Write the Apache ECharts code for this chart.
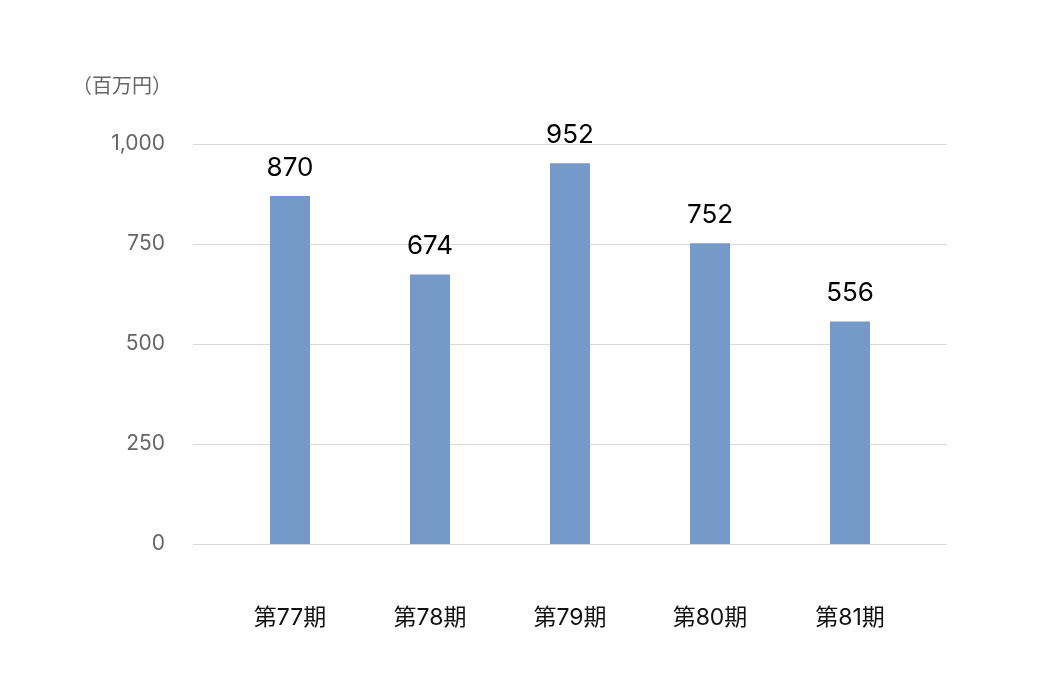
<!DOCTYPE html>
<html><head><meta charset="utf-8">
<script src="https://cdn.jsdelivr.net/npm/echarts@6/dist/echarts.min.js"></script>
<style>html,body{margin:0;padding:0;background:#fff}#c{width:1040px;height:700px}</style>
</head><body><div id="c"></div>
<script>
const categories = ['第77期','第78期','第79期','第80期','第81期'];
const values = [870, 674, 952, 752, 556];
const unitLabel = '（百万円）';
const yMin = 0, yMax = 1000, yStep = 250;

const font = 'Inter, "Noto Sans CJK JP", sans-serif';
const chart = echarts.init(document.getElementById('c'), null, {renderer:'canvas'});
chart.setOption({
  animation:false,
  backgroundColor:'#fff',
  graphic:[{type:'text', left:72, top:75, style:{text:unitLabel, fill:'#666', font:'20px "Noto Sans CJK JP", sans-serif'}}],
  grid:[
    {left:193, right:93, top:144, bottom:156},
    {left:220, right:120, top:144, bottom:156}
  ],
  xAxis:[
    {gridIndex:0, type:'category', data:categories, show:false},
    {gridIndex:1, type:'category', data:categories, axisLine:{show:false}, axisTick:{show:false},
     axisLabel:{color:'#111', fontSize:23, fontFamily:font, margin:63}}
  ],
  yAxis:[
    {gridIndex:0, type:'value', min:yMin, max:yMax, interval:yStep,
     axisLine:{show:false}, axisTick:{show:false},
     axisLabel:{color:'#666', fontSize:21, fontFamily:font, margin:28,
       formatter:v=>v.toLocaleString('en-US')},
     splitLine:{lineStyle:{color:'#d9d9d9', width:1}}},
    {gridIndex:1, type:'value', min:yMin, max:yMax, interval:yStep, show:false, splitLine:{show:false}}
  ],
  series:[{
    type:'bar', xAxisIndex:1, yAxisIndex:1, data:values, barWidth:40,
    itemStyle:{color:'#7599c8'},
    label:{show:true, position:'top', distance:15, color:'#000', fontSize:26, fontFamily:font}
  }]
});
</script></body></html>
